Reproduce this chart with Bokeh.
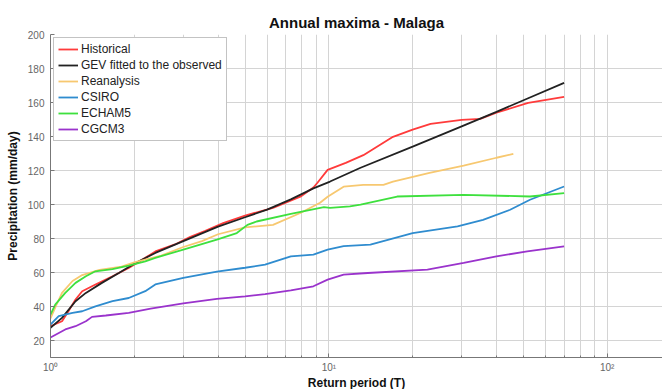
from bokeh.plotting import figure
from bokeh.models import FixedTicker, Range1d
from bokeh.embed import file_html
from bokeh.resources import INLINE

# ---- data ----
hist_T = [1.0, 1.1, 1.16, 1.23, 1.3, 1.45, 1.67, 1.91, 2.19, 2.38, 2.8, 3.18, 3.6, 4.17, 5.0, 6.3, 7.9, 8.8, 9.1, 9.9, 11.5, 13.3, 17, 20, 23.2, 30, 35, 40, 52, 70]
hist_P = [28.4, 31.3, 37.2, 44.1, 49, 52.9, 57.8, 62.7, 68.6, 72.4, 76.5, 81, 84.5, 89, 93.5, 98, 104.6, 110, 112.8, 120.4, 124.5, 129, 139.8, 144, 147.4, 149.8, 150.4, 154, 159.8, 163.3]

gev_T = [1.0, 1.1, 1.23, 1.34, 1.53, 1.76, 2.02, 2.38, 3.0, 4.0, 5.0, 6.0, 7.3, 8.8, 10.1, 13, 20, 30, 40, 52, 70]
gev_P = [27.5, 33.3, 43.1, 48, 53.9, 59.7, 65.6, 71.5, 78.5, 87, 92.5, 97, 103, 109.5, 113.5, 121.6, 134, 146, 154.5, 162.5, 171.5]

rean_T = [1.0, 1.05, 1.1, 1.2, 1.3, 1.5, 1.8, 2.0, 2.5, 3.0, 3.5, 4.0, 5.0, 6.3, 7.9, 9.3, 9.9, 11.3, 13.3, 15.7, 17, 23, 30.5, 40, 46]
rean_P = [33, 41, 48, 55, 58.5, 61.5, 63.5, 66, 70, 75, 78.5, 82.5, 86.5, 88, 95, 101, 104.6, 110.5, 111.5, 111.6, 113.4, 118.6, 122.8, 127.5, 129.8]

csiro_T = [1.0, 1.07, 1.2, 1.3, 1.45, 1.67, 1.91, 2.19, 2.38, 3.0, 3.96, 5.0, 5.9, 7.3, 8.8, 9.9, 11.3, 14.1, 20, 29, 35.8, 44.8, 52.8, 70]
csiro_P = [29.4, 34.3, 36.3, 37.2, 40.1, 43.1, 45, 49, 53, 56.8, 60.5, 62.8, 64.6, 69.5, 70.5, 73.4, 75.5, 76.4, 83.2, 87.1, 91, 96.9, 102.8, 110.6]

echam_T = [1.0, 1.04, 1.13, 1.23, 1.34, 1.45, 1.67, 1.91, 2.19, 2.38, 3.0, 3.96, 4.67, 5.1, 5.5, 7.3, 9.6, 10.1, 11.9, 13, 17.6, 30.5, 52.8, 70]
echam_P = [35.3, 41.1, 48, 53.9, 57.8, 60.7, 62, 64, 66.6, 68.6, 73.5, 79.3, 83.2, 88, 90, 94.5, 98.5, 98, 98.9, 99.9, 104.7, 105.7, 104.7, 106.7]

cgcm_T = [1.0, 1.13, 1.23, 1.34, 1.41, 1.58, 1.91, 2.29, 3.0, 3.96, 5.0, 5.9, 7.3, 8.8, 9.9, 11.3, 13.8, 22.6, 30.5, 40, 51.6, 70]
cgcm_P = [21.8, 26.5, 28.4, 31.3, 33.9, 34.7, 36.3, 38.7, 41.8, 44.5, 46, 47.3, 49.5, 51.9, 55.8, 58.8, 59.7, 61.7, 65.6, 69.5, 72.4, 75.4]

series_names = ["Historical", "GEV fitted to the observed", "Reanalysis", "CSIRO", "ECHAM5", "CGCM3"]
series_colors = ["#ff3b3b", "#222222", "#f7c870", "#2f8ccf", "#3ee03e", "#9a33cc"]

y_ticks = [20, 40, 60, 80, 100, 120, 140, 160, 180, 200]
x_major = [1, 10, 100]
x_minor = [2, 3, 4, 5, 6, 7, 8, 9, 20, 30, 40, 50, 60, 70, 80, 90]
x_labels = {1: "10\u2070", 10: "10\u00b9", 100: "10\u00b2"}

FONT = "Liberation Sans"

p = figure(frame_width=612, frame_height=323, x_axis_type="log",
           x_range=Range1d(1, 158), y_range=Range1d(10, 200),
           output_backend="svg", toolbar_location=None,
           min_border_left=50, min_border_right=0, min_border_top=34, min_border_bottom=0,
           title="Annual maxima - Malaga")

p.title.align = "center"
p.title.text_font = FONT
p.title.text_font_size = "15px"
p.title.text_font_style = "bold"
p.title.text_color = "#111111"
p.title.standoff = 7

data = [(hist_T, hist_P), (gev_T, gev_P), (rean_T, rean_P), (csiro_T, csiro_P), (echam_T, echam_P), (cgcm_T, cgcm_P)]
for (t, v), name, col in zip(data, series_names, series_colors):
    p.line(t, v, line_color=col, line_width=1.8, legend_label=name)

p.xaxis.ticker = FixedTicker(ticks=x_major, minor_ticks=x_minor)
p.xaxis.major_label_overrides = x_labels
p.yaxis.ticker = FixedTicker(ticks=y_ticks)

for ax in (p.xaxis, p.yaxis):
    ax.major_label_text_font = FONT
    ax.major_label_text_font_size = "10px"
    ax.major_label_text_color = "#666666"
    ax.axis_label_text_font = FONT
    ax.axis_label_text_font_size = "12px"
    ax.axis_label_text_font_style = "bold"
    ax.axis_label_text_color = "#111111"
    ax.axis_line_color = "#777777"
    ax.major_tick_line_color = "#777777"
    ax.minor_tick_line_color = "#777777"
    ax.major_tick_in = 4
    ax.major_tick_out = 0
    ax.minor_tick_in = 2
    ax.minor_tick_out = 0

p.xaxis.major_label_standoff = 4
p.yaxis.major_label_standoff = 6
p.xaxis.axis_label = "Return period (T)"
p.yaxis.axis_label = "Precipitation (mm/day)"
p.xaxis.axis_label_standoff = 0
p.yaxis.axis_label_standoff = 5

p.xgrid.grid_line_color = "#d4d4d4"
p.xgrid.minor_grid_line_color = "#d4d4d4"
p.ygrid.grid_line_color = "#d4d4d4"
p.outline_line_color = None

leg = p.legend[0]
leg.location = "top_left"
leg.label_text_font = FONT
leg.label_text_font_size = "12px"
leg.label_text_color = "#222222"
leg.glyph_width = 20
leg.glyph_height = 14
leg.label_height = 14
leg.spacing = 2
leg.padding = 4
leg.margin = 3
leg.label_standoff = 3
leg.border_line_color = "#888888"
leg.background_fill_alpha = 1.0

open("out.html", "w").write(file_html(p, INLINE))
